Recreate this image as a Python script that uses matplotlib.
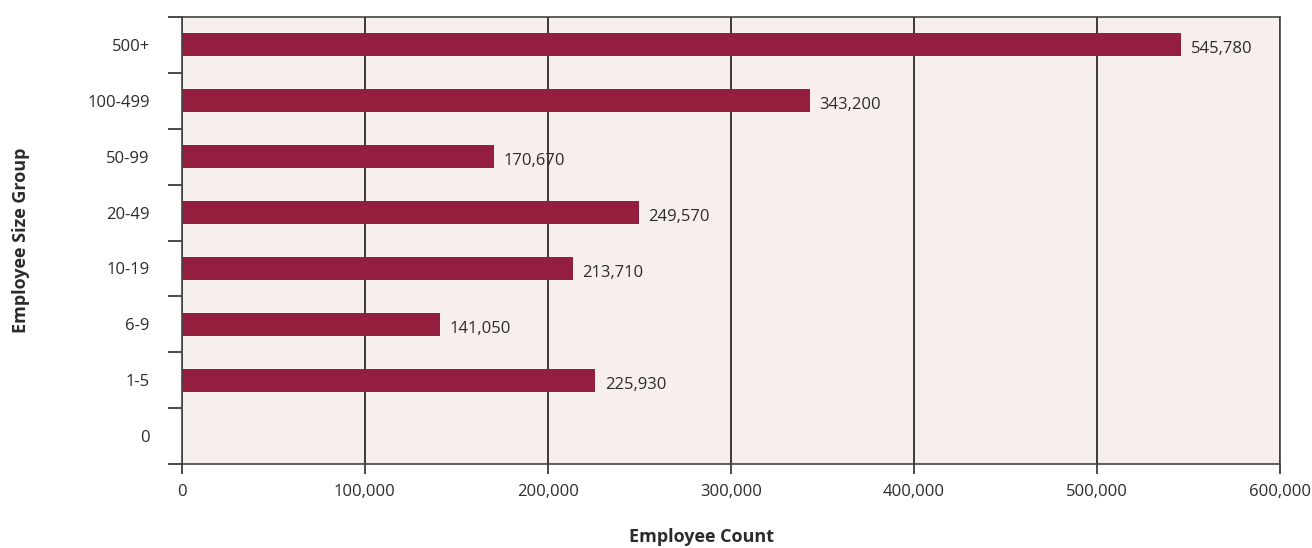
import matplotlib

matplotlib.use("Agg")
import matplotlib.pyplot as plt
import numpy as np
from matplotlib.ticker import FixedLocator, FuncFormatter

# employee counts by size group of employer
size_groups = ["0", "1-5", "6-9", "10-19", "20-49", "50-99", "100-499", "500+"]
employee_counts = [0, 225930, 141050, 213710, 249570, 170670, 343200, 545780]
x_ticks = [0, 100000, 200000, 300000, 400000, 500000, 600000]

BAR = "#931e3d"
PANEL = "#f7efee"
INK = "#2b2b2b"

plt.rcParams["font.family"] = ["Open Sans", "DejaVu Sans"]

fig = plt.figure(figsize=(13.12, 5.48), dpi=100)
ax = fig.add_axes([0.1385, 0.1527, 0.8371, 0.8168])
ax.set_facecolor(PANEL)

ypos = np.arange(len(size_groups))
ax.barh(ypos, employee_counts, height=0.4, color=BAR, zorder=3)

for y, v in zip(ypos, employee_counts):
    if v <= 0:
        continue
    ax.annotate(f"{v:,}", (v, y), xytext=(7, -3), textcoords="offset points",
                ha="left", va="center", fontsize=12, color=INK, zorder=4)

ax.set_xlim(0, 600000)
ax.set_ylim(-0.5, len(size_groups) - 0.5)

ax.xaxis.set_major_locator(FixedLocator(x_ticks))
ax.xaxis.set_major_formatter(FuncFormatter(lambda v, _: f"{int(v):,}"))
ax.tick_params(axis="x", which="major", length=7, width=1.2, color=INK,
               labelsize=12, labelcolor=INK, pad=7)
ax.grid(axis="x", color=INK, linewidth=1.3, zorder=1)

# ticks sit on group boundaries, labels on group centres
ax.yaxis.set_major_locator(FixedLocator(np.arange(-0.5, len(size_groups), 1.0)))
ax.yaxis.set_major_formatter(FuncFormatter(lambda v, _: ""))
ax.yaxis.set_minor_locator(FixedLocator(ypos))
ax.set_yticks(ypos, size_groups, minor=True)
ax.tick_params(axis="y", which="major", length=10, width=1.2, color=INK)
ax.tick_params(axis="y", which="minor", length=0, labelsize=12,
               labelcolor=INK, pad=23)

for side in ("top", "right", "bottom", "left"):
    ax.spines[side].set_color("#444444")
    ax.spines[side].set_linewidth(1.2)
    ax.spines[side].set_zorder(5)

fig.text(0.535, 0.02, "Employee Count", ha="center", va="center",
         fontsize=13, fontweight="bold", color=INK)
fig.text(0.016, 0.562, "Employee Size Group", ha="center", va="center",
         rotation=90, fontsize=13, fontweight="bold", color=INK)

fig.savefig("out.png", dpi=100)
